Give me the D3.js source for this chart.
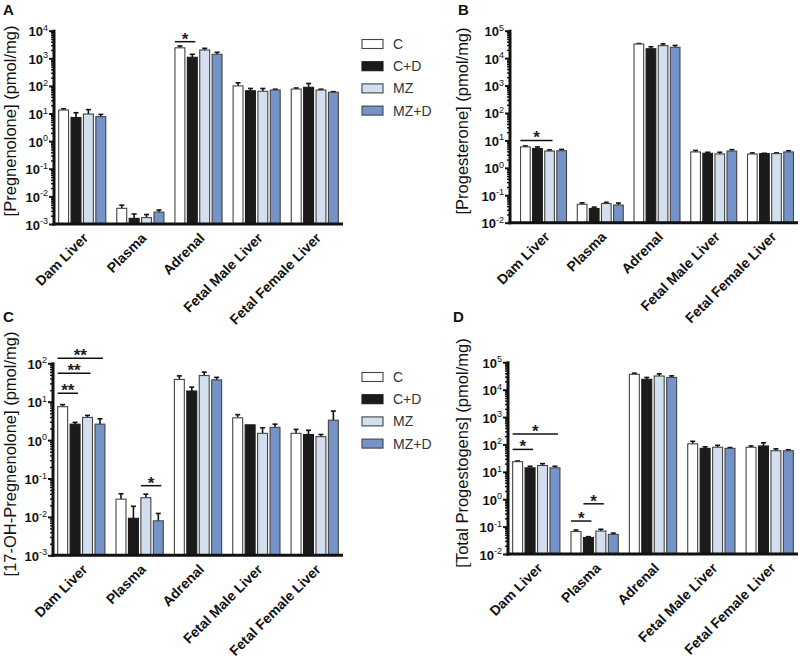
<!doctype html>
<meta charset='utf-8'>
<style>
  body { margin: 0; background: #fff; }
  svg { font-family: 'Liberation Sans', Arial, sans-serif; }
</style>
<body>
<script src='https://cdn.jsdelivr.net/npm/d3@7/dist/d3.min.js'></script>
<script>

// tissues on the x axis, treatment groups inside each tissue
var categories = ['Dam Liver', 'Plasma', 'Adrenal', 'Fetal Male Liver', 'Fetal Female Liver'];
var groups = ['C', 'C+D', 'MZ', 'MZ+D'];
var groupColors = ['#ffffff', '#1b1b1b', '#d3deef', '#7493c8'];

// mean values, one row per tissue (C, C+D, MZ, MZ+D)
var pregMean = [[13.4, 7.2, 9.6, 7.7], [0.0037, 0.0016, 0.0017, 0.0027], [2400, 1090, 2000, 1400], [100, 67, 64, 71], [77, 89, 71, 59]];
var pregSem  = [[1.5, 3.5, 4.3, 1.6], [0.0011, 0.0007, 0.0005, 0.0005], [400, 310, 300, 250], [30, 14, 17, 5], [7, 34, 5, 3]];

var progMean = [[5.8, 5.1, 4.1, 4.2], [0.047, 0.033, 0.050, 0.044], [32700, 22000, 28500, 24800], [3.8, 3.4, 3.2, 4.1], [3.2, 3.3, 3.3, 3.8]];
var progSem  = [[0.5, 0.7, 0.4, 0.5], [0.006, 0.004, 0.005, 0.008], [1300, 4000, 4500, 4200], [0.5, 0.3, 0.5, 0.5], [0.3, 0.1, 0.2, 0.4]];

var ohMean = [[7.4, 2.6, 3.9, 2.6], [0.029, 0.0092, 0.0316, 0.0079], [38, 19, 48, 37], [3.8, 2.5, 1.5, 2.15], [1.5, 1.4, 1.23, 3.3]];
var ohSem  = [[1.0, 0.3, 0.5, 1.0], [0.011, 0.0097, 0.0074, 0.0044], [9, 5, 11, 6], [0.8, 0, 0.6, 0.45], [0.4, 0.4, 0.17, 2.4]];

var totMean = [[23.5, 14, 17, 14], [0.066, 0.040, 0.069, 0.052], [36500, 24000, 31600, 28000], [105, 72, 79, 72], [79, 88, 59, 59]];
var totSem  = [[1.5, 2, 3, 2], [0.009, 0.003, 0.011, 0.006], [3500, 4000, 6400, 4000], [25, 10, 14, 5], [9, 27, 10, 5]];

// significance bars: tissue, from group, to group, height (data units), label
var pregSig = [['Adrenal', 'C', 'C+D', 4000, '*']];
var progSig = [['Dam Liver', 'C', 'MZ', 10, '*']];
var ohSig = [['Dam Liver', 'C', 'MZ+D', 135, '**'], ['Dam Liver', 'C', 'MZ', 55, '**'], ['Dam Liver', 'C', 'C+D', 16.6, '**'], ['Plasma', 'MZ', 'MZ+D', 0.065, '*']];
var totSig = [['Dam Liver', 'C', 'MZ+D', 240, '*'], ['Dam Liver', 'C', 'C+D', 66, '*'], ['Plasma', 'C', 'C+D', 0.16, '*'], ['Plasma', 'C+D', 'MZ', 0.68, '*']];

var svg = d3.select('body').append('svg')
    .attr('width', 800)
    .attr('height', 661);

var panels = [
  {letter: 'A', lx: 3, ly: 15, mean: pregMean, sem: pregSem, sig: pregSig, lo: -3, hi: 4,
   x0: 54, bx0: 54, x1: 343, yTop: 30.7, yBot: 224, label: '[Pregnenolone] (pmol/mg)', tx: 10, ty: 121, legend: 44},
  {letter: 'B', lx: 458, ly: 15, mean: progMean, sem: progSem, sig: progSig, lo: -2, hi: 5,
   x0: 510, bx0: 516, x1: 798, yTop: 30.7, yBot: 222.7, label: '[Progesterone] (pmol/mg)', tx: 462, ty: 121},
  {letter: 'C', lx: 3, ly: 322, mean: ohMean, sem: ohSem, sig: ohSig, lo: -3, hi: 2,
   x0: 53, bx0: 53, x1: 343, yTop: 363.3, yBot: 555.3, label: '[17-OH-Pregnenolone] (pmol/mg)', tx: 10, ty: 454, legend: 377},
  {letter: 'D', lx: 453, ly: 322, mean: totMean, sem: totSem, sig: totSig, lo: -2, hi: 5,
   x0: 508, bx0: 508, x1: 798, yTop: 362.3, yBot: 554, label: '[Total Progestogens] (pmol/mg)', tx: 462, ty: 453}
];

panels.forEach(drawPanel);

function drawPanel(p) {
  var g = svg.append('g');

  var y = d3.scaleLog()
    .domain([Math.pow(10, p.lo), Math.pow(10, p.hi)])
    .range([p.yBot, p.yTop]);

  var x = d3.scaleBand()
    .domain(categories)
    .range([p.bx0, p.x1])
    .paddingInner(0.19)
    .paddingOuter(0.08);

  var xi = d3.scaleBand()
    .domain(groups)
    .range([0, x.bandwidth()])
    .paddingInner(0.2);

  var bw = xi.bandwidth();

  var rows = [];
  categories.forEach(function(c, ci) {
    groups.forEach(function(s, si) {
      rows.push({cat: c, grp: s, gi: si, v: p.mean[ci][si], e: p.sem[ci][si]});
    });
  });

  // error bars (drawn first so the bar top hides the stem)
  var err = g.append('g').selectAll('g')
    .data(rows.filter(function(d) { return d.e > 0; }))
    .enter().append('g')
    .attr('stroke', '#111')
    .attr('stroke-width', 1.6);
  err.append('line')
    .attr('x1', function(d) { return x(d.cat) + xi(d.grp) + bw / 2; })
    .attr('x2', function(d) { return x(d.cat) + xi(d.grp) + bw / 2; })
    .attr('y1', function(d) { return y(d.v); })
    .attr('y2', function(d) { return y(d.v + d.e); });
  err.append('line')
    .attr('x1', function(d) { return x(d.cat) + xi(d.grp) + bw / 2 - 2.5; })
    .attr('x2', function(d) { return x(d.cat) + xi(d.grp) + bw / 2 + 2.5; })
    .attr('y1', function(d) { return y(d.v + d.e); })
    .attr('y2', function(d) { return y(d.v + d.e); });

  g.append('g').selectAll('rect')
    .data(rows)
    .enter().append('rect')
    .attr('x', function(d) { return x(d.cat) + xi(d.grp); })
    .attr('y', function(d) { return y(d.v); })
    .attr('width', bw)
    .attr('height', function(d) { return p.yBot - y(d.v); })
    .attr('fill', function(d) { return groupColors[d.gi]; })
    .attr('stroke', function(d) { return d.gi === 1 ? '#1b1b1b' : '#444'; })
    .attr('stroke-width', 1.1);

  // y axis: major and minor log ticks
  var majors = d3.range(p.lo, p.hi + 1).map(function(e) { return Math.pow(10, e); });
  var minors = y.ticks().filter(function(t) { return majors.indexOf(t) < 0; });

  g.append('g')
    .attr('transform', 'translate(' + p.x0 + ',0)')
    .call(d3.axisLeft(y).tickValues(minors).tickSize(3).tickFormat(''))
    .call(function(a) { a.select('.domain').remove(); a.selectAll('line').attr('stroke-width', 1.4).attr('stroke', '#111'); });
  g.append('g')
    .attr('transform', 'translate(' + p.x0 + ',0)')
    .call(d3.axisLeft(y).tickValues(majors).tickSize(5).tickFormat(''))
    .call(function(a) { a.select('.domain').remove(); a.selectAll('line').attr('stroke-width', 2).attr('stroke', '#111'); });

  g.append('line')
    .attr('x1', p.x0).attr('x2', p.x0)
    .attr('y1', p.yTop - 1).attr('y2', p.yBot + 1.5)
    .attr('stroke', '#111').attr('stroke-width', 3);
  g.append('line')
    .attr('x1', p.x0 - 1.5).attr('x2', p.x1)
    .attr('y1', p.yBot).attr('y2', p.yBot)
    .attr('stroke', '#111').attr('stroke-width', 3);

  var tl = g.append('g').selectAll('text')
    .data(d3.range(p.lo, p.hi + 1))
    .enter().append('text')
    .attr('x', p.x0 - 6)
    .attr('y', function(e) { return y(Math.pow(10, e)) + 5.5; })
    .attr('text-anchor', 'end')
    .style('font-size', '13px')
    .style('font-weight', 'bold')
    .attr('fill', '#111');
  tl.append('tspan').text('10');
  tl.append('tspan')
    .attr('dy', -5.5)
    .style('font-size', '9px')
    .style('font-weight', 'normal')
    .text(function(e) { return e; });

  // category labels
  g.append('g').selectAll('text')
    .data(categories)
    .enter().append('text')
    .attr('transform', function(c) {
      return 'translate(' + (x(c) + x.bandwidth() / 2 + 7) + ',' + (p.yBot + 15) + ') rotate(-45)';
    })
    .attr('text-anchor', 'end')
    .style('font-size', '14px')
    .style('font-weight', 'bold')
    .attr('fill', '#111')
    .text(function(c) { return c; });

  g.append('text')
    .attr('transform', 'translate(' + p.tx + ',' + p.ty + ') rotate(-90)')
    .attr('text-anchor', 'middle')
    .attr('dy', '0.35em')
    .style('font-size', '16.5px')
    .attr('fill', '#111')
    .text(p.label);

  g.append('text')
    .attr('x', p.lx)
    .attr('y', p.ly)
    .style('font-size', '15px')
    .style('font-weight', 'bold')
    .attr('fill', '#111')
    .text(p.letter);

  // significance markers
  function sx1(d) { return x(d[0]) + xi(d[1]) + bw / 2 - 5; }
  function sx2(d) { return x(d[0]) + xi(d[2]) + bw / 2 + 3; }

  var sg = g.append('g').selectAll('g')
    .data(p.sig)
    .enter().append('g');
  sg.append('line')
    .attr('x1', sx1)
    .attr('x2', sx2)
    .attr('y1', function(d) { return y(d[3]); })
    .attr('y2', function(d) { return y(d[3]); })
    .attr('stroke', '#111')
    .attr('stroke-width', 1.5);
  sg.append('text')
    .attr('x', function(d) { return (sx1(d) + sx2(d)) / 2; })
    .attr('y', function(d) { return y(d[3]) + 3; })
    .attr('text-anchor', 'middle')
    .style('font-size', '17px')
    .style('font-weight', 'bold')
    .attr('fill', '#222')
    .text(function(d) { return d[4]; });

  if (p.legend) {
    var lg = g.append('g').selectAll('g')
      .data(groups)
      .enter().append('g')
      .attr('transform', function(s, i) { return 'translate(362,' + (p.legend + i * 22.2) + ')'; });
    lg.append('rect')
      .attr('x', 0).attr('y', -4.5)
      .attr('width', 21).attr('height', 9)
      .attr('fill', function(s, i) { return groupColors[i]; })
      .attr('stroke', function(s, i) { return i === 1 ? '#1b1b1b' : '#444'; })
      .attr('stroke-width', 1.1);
    lg.append('text')
      .attr('x', 31)
      .attr('dy', '0.36em')
      .style('font-size', '14px')
      .attr('fill', '#333')
      .text(function(s) { return s; });
  }
}

</script>
